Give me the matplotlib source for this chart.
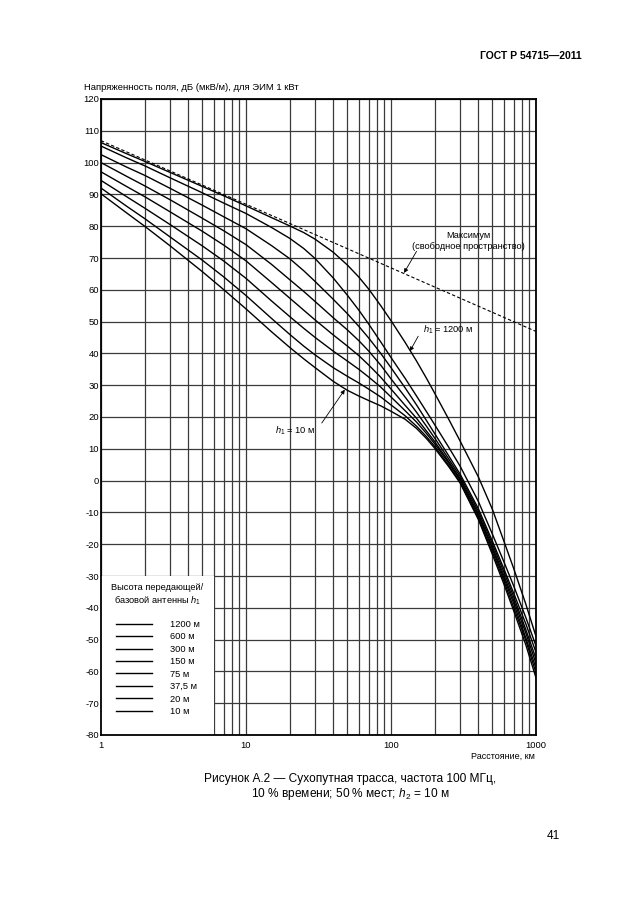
import matplotlib
matplotlib.use('Agg')
import matplotlib.pyplot as plt
from matplotlib.ticker import LogLocator, FixedLocator, FixedFormatter, NullFormatter
from matplotlib.patches import Rectangle

plt.rcParams['font.family'] = ['Liberation Sans', 'DejaVu Sans']
plt.rcParams['font.size'] = 6.7
plt.rcParams['axes.unicode_minus'] = False
plt.rcParams['mathtext.fontset'] = 'custom'
plt.rcParams['mathtext.rm'] = 'Liberation Sans'
plt.rcParams['mathtext.it'] = 'Liberation Sans:italic'

# ---------------- data ----------------
distance_km = [1, 1.5, 2, 3, 5, 7, 10, 15, 20, 25, 30, 40, 50, 60, 70, 85, 100,
               125, 150, 175, 200, 250, 300, 400, 500, 600, 700, 850, 1000]

height_labels = ['1200 м', '600 м', '300 м', '150 м', '75 м', '37,5 м', '20 м', '10 м']

field_h1200 = [106.3, 102.8, 100.4, 96.9, 92.5, 89.6, 86.4, 82.7, 80.1, 78.0, 75.9, 71.8, 67.8,
               64.0, 60.3, 55.0, 50.3, 43.5, 37.6, 32.3, 27.5, 19.3, 12.4, 1.2, -9.0, -19.0,
               -27.5, -38.8, -49.0]
field_h600 = [105.2, 101.5, 99.0, 95.2, 90.5, 87.3, 84.0, 79.6, 76.2, 73.0, 69.8, 63.7, 58.3,
              53.6, 49.3, 43.6, 38.7, 32.2, 26.6, 21.8, 17.6, 10.5, 4.5, -6.5, -16.8, -25.5,
              -33.0, -43.0, -52.0]
field_h300 = [102.5, 98.6, 96.0, 91.9, 86.6, 83.0, 79.2, 73.9, 69.8, 66.0, 62.6, 57.0, 52.5,
              48.5, 44.9, 40.0, 35.5, 29.2, 23.8, 19.0, 14.8, 7.8, 2.0, -8.8, -19.0, -27.7,
              -35.3, -45.0, -54.0]
field_h150 = [100.0, 95.7, 92.7, 88.3, 82.5, 78.6, 74.2, 68.0, 63.2, 59.5, 56.3, 51.2, 47.4,
              44.0, 40.8, 36.3, 32.0, 26.3, 21.5, 17.2, 13.4, 6.8, 1.3, -9.6, -19.9, -28.7,
              -36.4, -46.8, -56.0]
field_h75 = [97.1, 92.5, 89.3, 84.5, 78.4, 74.1, 69.1, 62.3, 57.4, 53.6, 50.5, 45.8, 42.3,
             39.3, 36.4, 32.5, 28.8, 23.7, 19.6, 15.7, 12.3, 6.0, 0.6, -10.4, -20.8, -29.8,
             -37.5, -47.9, -57.5]
field_h37 = [94.4, 89.3, 85.7, 80.5, 73.8, 69.1, 63.6, 56.5, 51.6, 47.9, 45.0, 40.7, 37.6,
             35.0, 32.6, 29.4, 26.3, 22.0, 18.4, 14.9, 11.6, 5.5, 0.1, -11.0, -21.5, -30.6,
             -38.5, -49.4, -59.0]
field_h20 = [92.0, 86.3, 82.4, 76.6, 69.3, 64.1, 58.2, 51.0, 46.0, 42.3, 39.5, 35.5, 32.8,
             30.7, 28.8, 26.3, 23.8, 20.4, 17.1, 13.9, 10.8, 4.8, -0.5, -11.7, -22.4, -31.5,
             -39.8, -50.2, -60.5]
field_h10 = [90.2, 84.2, 80.0, 73.8, 65.7, 60.1, 54.0, 46.8, 41.9, 38.3, 35.5, 31.2, 28.4,
             26.6, 25.2, 23.5, 21.8, 19.3, 16.4, 13.3, 10.2, 4.4, -0.8, -12.2, -23.2, -32.5,
             -40.8, -51.6, -62.0]

free_space_km = [1, 1000]
free_space_db = [106.9, 46.9]

y_ticks = list(range(-80, 121, 10))
x_ticks = [1, 10, 100, 1000]
x_tick_labels = ['1', '10', '100', '1000']

series = [field_h1200, field_h600, field_h300, field_h150,
          field_h75, field_h37, field_h20, field_h10]

# ---------------- figure ----------------
fig = plt.figure(figsize=(6.3, 9.13), dpi=100)
ax = fig.add_axes([101 / 630, 1 - 735 / 913, 435 / 630, 636 / 913])

ax.set_xscale('log')
ax.set_xlim(1, 1000)
ax.set_ylim(-80, 120)

ax.xaxis.set_major_locator(FixedLocator(x_ticks))
ax.xaxis.set_major_formatter(FixedFormatter(x_tick_labels))
ax.xaxis.set_minor_locator(LogLocator(base=10, subs=range(2, 10)))
ax.xaxis.set_minor_formatter(NullFormatter())
ax.yaxis.set_major_locator(FixedLocator(y_ticks))
ax.set_yticklabels([str(v) for v in y_ticks])

ax.tick_params(which='both', length=0)
ax.tick_params(axis='y', pad=1.5, labelsize=6.8)
ax.tick_params(axis='x', pad=4, labelsize=6.8)

ax.grid(True, which='both', axis='x', color='#3a3a3a', lw=0.9, zorder=0)
ax.grid(True, which='major', axis='y', color='#3a3a3a', lw=0.9, zorder=0)
ax.set_axisbelow(True)
for sp in ax.spines.values():
    sp.set_linewidth(1.3)
    sp.set_color('black')

# white legend area (covers grid)
ax.add_patch(Rectangle((0, 0), 0.2594, 0.25, transform=ax.transAxes,
                       facecolor='white', edgecolor='none', zorder=1.5))

lines = []
for vals, lab in zip(series, height_labels):
    ln, = ax.plot(distance_km, vals, color='black', lw=1.0, zorder=3, label=lab,
                  solid_joinstyle='round')
    lines.append(ln)

ax.plot(free_space_km, free_space_db, color='black', lw=0.8,
        linestyle=(0, (3, 2)), zorder=3)

# legend
ax.text(0.130, 0.239, 'Высота передающей/\nбазовой антенны $h_1$',
        transform=ax.transAxes, ha='center', va='top', fontsize=6.7,
        linespacing=1.25, zorder=4)
leg = ax.legend(handles=lines, loc='upper left', bbox_to_anchor=(0.0345, 0.181),
                frameon=False, borderpad=0, borderaxespad=0, fontsize=6.7,
                handlelength=3.9, handletextpad=1.95, labelspacing=0.37)
leg.set_zorder(5)

# annotations
arrow = dict(arrowstyle='-|>', lw=0.6, color='black', mutation_scale=6,
             shrinkA=0, shrinkB=0)
ax.annotate('', xy=(123, 65.3), xytext=(150, 72.1), arrowprops=arrow, zorder=4)
ax.text(340, 75.3, 'Максимум\n(свободное пространство)', ha='center', va='center',
        fontsize=6.7, linespacing=1.3, zorder=4)

ax.annotate('', xy=(135, 40.7), xytext=(154, 45.4), arrowprops=arrow, zorder=4)
ax.text(166, 47.3, '$h_1$ = 1200 м', ha='left', va='center', fontsize=6.7, zorder=4)

ax.annotate('', xy=(48, 28.6), xytext=(33.3, 18.1), arrowprops=arrow, zorder=4)
ax.text(15.8, 15.8, '$h_1$ = 10 м', ha='left', va='center', fontsize=6.7, zorder=4)

# page texts
fig.text(582 / 630, 1 - 56 / 913, 'ГОСТ Р 54715—2011', ha='right', va='center',
         fontsize=7.5, fontweight='bold')
fig.text(84 / 630, 1 - 87 / 913, 'Напряженность поля, дБ (мкВ/м), для ЭИМ 1 кВт',
         ha='left', va='center', fontsize=6.8)
fig.text(535 / 630, 1 - 756 / 913, 'Расстояние, км', ha='right', va='center',
         fontsize=6.5)
fig.text(350 / 630, 1 - 779 / 913, 'Рисунок А.2 — Сухопутная трасса, частота 100 МГц,',
         ha='center', va='center', fontsize=8.6)
fig.text(350 / 630, 1 - 794 / 913, '10 % времени; 50 % мест; $h_2$ = 10 м',
         ha='center', va='center', fontsize=8.6)
fig.text(560 / 630, 1 - 836 / 913, '41', ha='right', va='center', fontsize=8.5)

fig.savefig('out.png', dpi=100, facecolor='white')
